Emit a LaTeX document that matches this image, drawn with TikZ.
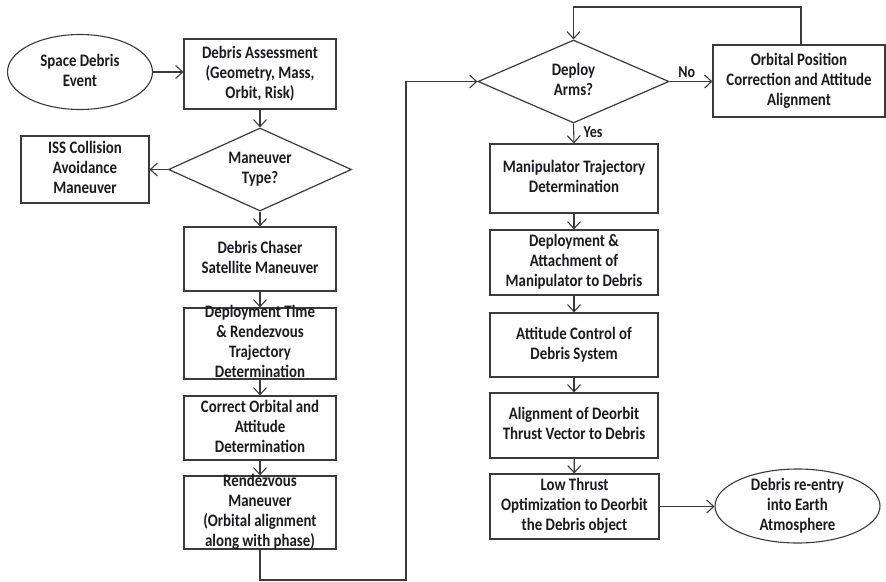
\documentclass[tikz,border=0pt]{standalone}
\usepackage{fontspec}
\setmainfont{Carlito}[FakeStretch=0.85]
\usetikzlibrary{shapes.geometric,arrows.meta}
\definecolor{lineC}{HTML}{3A3A3A}
\definecolor{textC}{HTML}{1A1A22}
\newcommand{\ctext}[1]{\smash{\raisebox{-0.25em}{\begin{tabular}{@{}c@{}}#1\end{tabular}}}}
\tikzset{
  every node/.style={font=\bfseries\fontsize{17.5}{20}\selectfont, text=textC},
  box/.style={draw=lineC, line width=1.2pt, rectangle, inner sep=0pt},
  dia/.style={draw=lineC, line width=1.2pt, diamond, inner sep=0pt},
  ell/.style={draw=lineC, line width=1.1pt, ellipse, inner sep=0pt},
  conn/.style={draw=lineC, line width=1.1pt, -{Straight Barb[length=7pt,width=13pt]}},
  lbl/.style={font=\bfseries\fontsize{16.5}{19}\selectfont}
}
\begin{document}
\begin{tikzpicture}[x=1pt,y=-1pt]
\useasboundingbox (0,0) rectangle (886,581);
% left column
\node[ell, minimum width=145, minimum height=75] (sde) at (80,72) {\ctext{Space Debris\\Event}};
\node[box, minimum width=152, minimum height=70] (da) at (260,74) {\ctext{Debris Assessment\\(Geometry, Mass,\\Orbit, Risk)}};
\node[dia, minimum width=183, minimum height=83] (mt) at (260,169.5) {\ctext{Maneuver\\Type?}};
\node[box, minimum width=128, minimum height=67] (iss) at (85,169.5) {\ctext{ISS Collision\\Avoidance\\Maneuver}};
\node[box, minimum width=152, minimum height=64] (dc) at (260,259) {\ctext{Debris Chaser\\Satellite Maneuver}};
\node[box, minimum width=152, minimum height=71] (dt) at (260,343.5) {\ctext{Deployment Time\\\& Rendezvous\\Trajectory\\Determination}};
\node[box, minimum width=152, minimum height=64] (co) at (260,428) {\ctext{Correct Orbital and\\Attitude\\Determination}};
\node[box, minimum width=152, minimum height=73] (rm) at (260,512.5) {\ctext{Rendezvous\\Maneuver\\(Orbital alignment\\along with phase)}};
% right column
\node[dia, minimum width=191, minimum height=83] (dpa) at (573.5,81.5) {\ctext{Deploy\\Arms?}};
\node[box, minimum width=172, minimum height=72] (op) at (799,81) {\ctext{Orbital Position\\Correction and Attitude\\Alignment}};
\node[box, minimum width=168, minimum height=69] (mtd) at (574,178.5) {\ctext{Manipulator Trajectory\\Determination}};
\node[box, minimum width=168, minimum height=65] (dam) at (574,262.5) {\ctext{Deployment \&\\Attachment of\\Manipulator to Debris}};
\node[box, minimum width=168, minimum height=64] (ac) at (574,345) {\ctext{Attitude Control of\\Debris System}};
\node[box, minimum width=168, minimum height=65] (al) at (574,425.5) {\ctext{Alignment of Deorbit\\Thrust Vector to Debris}};
\node[box, minimum width=169, minimum height=65] (lt) at (574.5,506.5) {\ctext{Low Thrust\\Optimization to Deorbit\\the Debris object}};
\node[ell, minimum width=165, minimum height=74] (re) at (797.5,506) {\ctext{Debris re-entry\\into Earth\\Atmosphere}};
\coordinate (b1) at (260,580);
\coordinate (b2) at (406,580);
\coordinate (b3) at (406,81.5);
\coordinate (t1) at (801,7);
\coordinate (t2) at (573.5,7);
% connectors
\draw[conn] (sde.east) -- (sde.east -| da.west);
\draw[conn] (da) -- (mt);
\draw[conn] (mt.west) -- (iss.east);
\draw[conn] (mt) -- (dc);
\draw[conn] (dc) -- (dt);
\draw[conn] (dt) -- (co);
\draw[conn] (co) -- (rm);
\draw[conn] (rm.south) -- (b1) -- (b2) -- (b3) -- (dpa.west);
\draw[conn] (dpa.east) -- node[lbl, above, pos=0.4] {No} (op.west |- dpa.east);
\draw[conn] (op.north -| t1) -- (t1) -- (t2) -- (dpa.north);
\draw[conn] (dpa.south) -- node[lbl, right, pos=0.45, xshift=6pt] {Yes} (mtd.north);
\draw[conn] (mtd) -- (dam);
\draw[conn] (dam) -- (ac);
\draw[conn] (ac) -- (al);
\draw[conn] (al) -- (lt);
\draw[conn] (lt.east) -- (lt.east -| re.west);
\end{tikzpicture}
\end{document}
